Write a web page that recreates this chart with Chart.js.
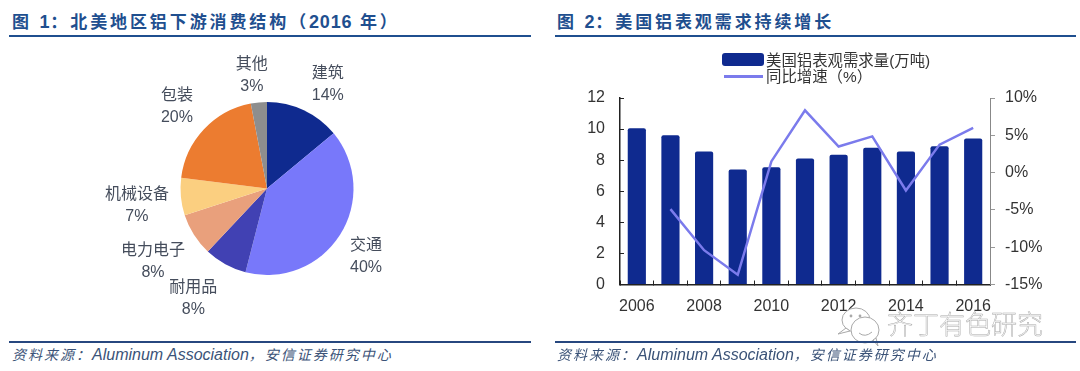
<!DOCTYPE html>
<html lang="zh">
<head>
<meta charset="utf-8">
<script src="https://cdn.jsdelivr.net/npm/chart.js@4"></script>
<style>
html,body{margin:0;padding:0;background:#fff;width:1080px;height:371px;overflow:hidden;}
body{position:relative;font-family:"Liberation Sans","Noto Sans CJK SC",sans-serif;}
.abs{position:absolute;white-space:nowrap;}
.title{font-weight:700;font-size:17px;line-height:22px;letter-spacing:2.9px;color:#1f4f8f;top:11px;}
.title .n{font-size:18px;letter-spacing:.8px;}
.rule1{height:2px;background:#1f4f8f;top:35px;}
.rule2{height:2px;background:#27477f;top:341px;}
.src{font-style:italic;font-size:16px;line-height:20px;color:#3b5378;top:345px;}
.src .zh{letter-spacing:2px;font-size:14px;}
.legtxt{font-size:15.4px;line-height:17px;color:#333;left:766px;}
#wm{left:887px;top:307px;font-size:26px;line-height:32px;font-weight:300;color:transparent;-webkit-text-stroke:.5px #a9a9a9;font-family:"Noto Sans CJK SC",sans-serif;}
canvas{position:absolute;}
</style>
</head>
<body>
<div class="abs title" style="left:12px">图 <span class="n">1</span>：北美地区铝下游消费结构（<span class="n">2016</span> 年）</div>
<div class="abs rule1" style="left:9px;width:522px"></div>
<div class="abs title" style="left:557px">图 <span class="n">2</span>：美国铝表观需求持续增长</div>
<div class="abs rule1" style="left:555px;width:521px"></div>

<canvas id="pie" style="left:0;top:40px" width="540" height="295"></canvas>
<canvas id="combo" style="left:555px;top:40px" width="525" height="295"></canvas>

<div class="abs" id="legSwatch1" style="left:722px;top:53px;width:42px;height:13px;border-radius:3px"></div>
<div class="abs legtxt" id="legText1" style="top:52px"></div>
<div class="abs" id="legSwatch2" style="left:724px;top:75px;width:39px;height:2.5px"></div>
<div class="abs legtxt" id="legText2" style="top:68px"></div>

<svg class="abs" style="left:832px;top:303px" width="55" height="46" viewBox="0 0 55 46">
  <g fill="#fff" stroke="#a9a9a9" stroke-width="1">
    <ellipse cx="24" cy="17" rx="14" ry="12"/>
    <path d="M14 25 L6 31 L18 28 Z"/>
    <ellipse cx="33" cy="27" rx="14" ry="13"/>
    <path d="M41 37 L46 43 L44 35 Z"/>
  </g>
  <circle cx="19" cy="13" r="1.4" fill="#a9a9a9"/>
  <circle cx="28" cy="13" r="1.4" fill="#a9a9a9"/>
  <path d="M27 30 Q33 35 40 29" fill="none" stroke="#a9a9a9"/>
</svg>
<div class="abs" id="wm">齐丁有色研究</div>

<div class="abs rule2" style="left:9px;width:522px"></div>
<div class="abs rule2" style="left:555px;width:521px"></div>
<div class="abs src" style="left:12px"><span class="zh">资料来源：</span>Aluminum Association<span class="zh">，安信证券研究中心</span></div>
<div class="abs src" style="left:557px"><span class="zh">资料来源：</span>Aluminum Association<span class="zh">，安信证券研究中心</span></div>

<script>
// Pie data
const pieLabels = ['建筑','交通','耐用品','电力电子','机械设备','包装','其他'];
const pieValues = [14,40,8,8,7,20,3];
const pieColors = ['#0f2a8f','#7878fa','#4141b3','#e9a07c','#fbcf80','#ec7c30','#8e8e8e'];
const pieLabelDx = [24,26,-32,-41,-44,-27,-7];
const pieLabelDy = [-26,22,34,27,9,-23,-27];

// Combo data
const years = ['2006','2007','2008','2009','2010','2011','2012','2013','2014','2015','2016'];
const xTickLabels = ['2006','','2008','','2010','','2012','','2014','','2016'];
const demand = [10.05,9.6,8.55,7.4,7.55,8.1,8.35,8.8,8.55,8.9,9.4];
const growth = [null,-4.9,-10.4,-13.7,1.5,8.35,3.5,4.85,-2.4,3.75,6.0];
const demandName = '美国铝表观需求量(万吨)';
const growthName = '同比增速（%）';
const barColor = '#0f2a8f';
const lineColor = '#7b7bec';

const FONT = '"Liberation Sans","Noto Sans CJK SC",sans-serif';
Chart.defaults.font.family = FONT;
Chart.defaults.animation = false;
Chart.defaults.responsive = false;

const pieLabelPlugin = {
  id:'pieLabels',
  afterDatasetsDraw(chart){
    const {ctx} = chart;
    const arcs = chart.getDatasetMeta(0).data;
    ctx.save();
    ctx.font = '16px '+FONT;
    ctx.fillStyle = '#454d5c';
    ctx.textAlign = 'center';
    ctx.textBaseline = 'middle';
    arcs.forEach((arc,i)=>{
      const mid = (arc.startAngle+arc.endAngle)/2;
      const x = arc.x + Math.cos(mid)*arc.outerRadius + pieLabelDx[i];
      const y = arc.y + Math.sin(mid)*arc.outerRadius + pieLabelDy[i];
      ctx.fillText(pieLabels[i], x, y-11);
      ctx.fillText(pieValues[i]+'%', x, y+11);
    });
    ctx.restore();
  }
};

new Chart(document.getElementById('pie'),{
  type:'pie',
  data:{labels:pieLabels,datasets:[{data:pieValues,backgroundColor:pieColors,borderWidth:0}]},
  options:{
    layout:{padding:{left:180.5,right:186.5,top:62,bottom:60}},
    plugins:{legend:{display:false},tooltip:{enabled:false}}
  },
  plugins:[pieLabelPlugin]
});

new Chart(document.getElementById('combo'),{
  data:{
    labels:years,
    datasets:[
      {type:'line',label:growthName,data:growth,yAxisID:'y1',xAxisID:'x',borderColor:lineColor,borderWidth:2.5,pointRadius:0,tension:0,spanGaps:false,order:1},
      {type:'bar',label:demandName,data:demand,yAxisID:'y',xAxisID:'x',backgroundColor:barColor,barPercentage:0.54,categoryPercentage:1,borderRadius:{topLeft:2,topRight:2},order:2}
    ]
  },
  options:{
    layout:{padding:{left:0,right:0,top:58,bottom:0}},
    plugins:{legend:{display:false},tooltip:{enabled:false}},
    scales:{
      x:{
        position:'bottom',
        afterFit(s){s.height=50.5;},
        grid:{drawOnChartArea:false,offset:true,color:'#222',tickLength:-4},
        border:{color:'#222',width:1.5},
        ticks:{autoSkip:false,maxRotation:0,padding:16,color:'#333',font:{size:16},callback:(v,i)=>xTickLabels[i]}
      },
      y:{
        position:'left',min:0,max:12,
        afterFit(s){s.width=65;},
        grid:{drawOnChartArea:false,color:'#222',tickLength:-4},
        border:{color:'#222',width:1.5},
        ticks:{stepSize:2,padding:19,color:'#333',font:{size:16}}
      },
      y1:{
        position:'right',min:-15,max:10,
        afterFit(s){s.width=90;},
        grid:{drawOnChartArea:false,color:'#999',tickLength:5},
        border:{color:'#888',width:1},
        ticks:{stepSize:5,padding:10,color:'#333',font:{size:16},callback:v=>v+'%'}
      }
    }
  }
});

document.getElementById('legSwatch1').style.background = barColor;
document.getElementById('legSwatch2').style.background = lineColor;
document.getElementById('legText1').textContent = demandName;
document.getElementById('legText2').textContent = growthName;
</script>
</body>
</html>
